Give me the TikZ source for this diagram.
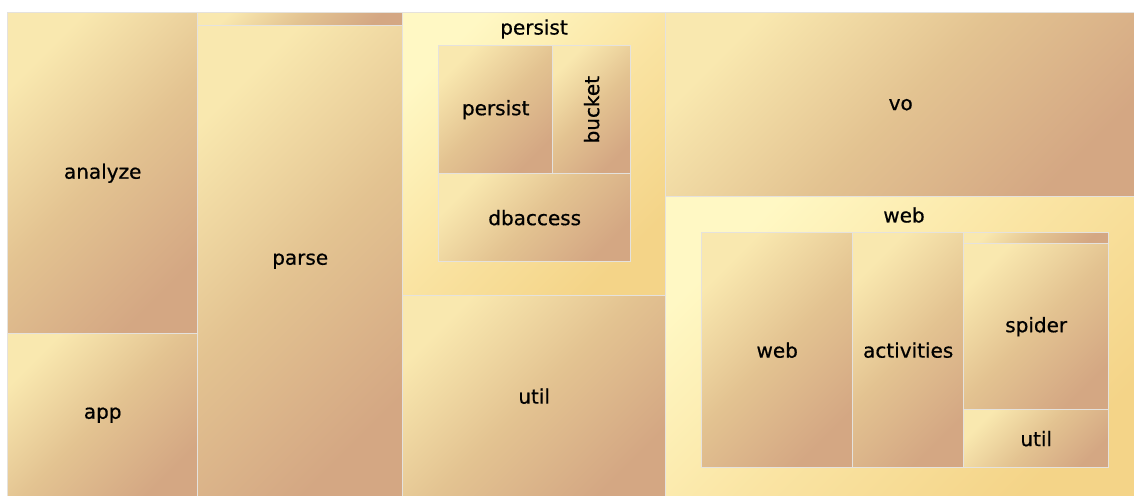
\documentclass[tikz,border=0pt]{standalone}
\usepackage{fontspec}
\setmainfont{DejaVu Sans}[BoldFont=DejaVu Sans, BoldFeatures={FakeBold=0.6}]
\definecolor{leafA}{HTML}{F9E8AF}
\definecolor{leafB}{HTML}{E3C391}
\definecolor{leafC}{HTML}{D4A783}
\definecolor{grpA}{HTML}{FFF8C4}
\definecolor{grpB}{HTML}{FAE4A3}
\definecolor{grpC}{HTML}{F4D488}
\definecolor{rule}{HTML}{E5E2DD}
\pgfdeclarehorizontalshading{leafshade}{100bp}{color(0bp)=(leafA); color(25bp)=(leafA); color(50bp)=(leafB); color(75bp)=(leafC); color(100bp)=(leafC)}
\pgfdeclarehorizontalshading{grpshade}{100bp}{color(0bp)=(grpA); color(25bp)=(grpA); color(50bp)=(grpB); color(75bp)=(grpC); color(100bp)=(grpC)}
\tikzset{
  tile/.style={draw=rule, line width=1.4pt, inner sep=0pt, anchor=north west,
    font=\fontsize{20}{23}\selectfont\bfseries, text=black},
  leaf/.style={tile, shading=leafshade, shading angle=-45},
  grp/.style={tile, shading=grpshade, shading angle=-45},
  lbl/.style={inner sep=0pt, font=\fontsize{20}{23}\selectfont\bfseries, text=black},
}
% place a tile: style, name, x, y, width, height, text
\newcommand\tm[7]{\node[#1, minimum width=#5pt, minimum height=#6pt] (#2) at (#3,#4) {#7};}
\begin{document}
\begin{tikzpicture}[x=1pt, y=-1pt]
  \fill[white] (0,0) rectangle (1134,495);
  \useasboundingbox (0,0) rectangle (1134,495);
  \begin{scope}
    \clip (0,0) rectangle (1134,495);
    % left column
    \tm{leaf}{analyze}{7}{12}{190}{321}{analyze}
    \tm{leaf}{app}{7}{333}{190}{163}{app}
    % parse column
    \tm{leaf}{topstrip}{197}{12}{205}{13}{}
    \tm{leaf}{parse}{197}{25}{205}{471}{parse}
    % persist package
    \tm{grp}{persistpkg}{402}{12}{263}{283}{}
    \node[lbl] (persistlbl) at (534,29) {persist};
    \tm{leaf}{persist}{438}{45}{114}{128}{persist}
    \tm{leaf}{bucket}{552}{45}{78}{128}{}
    \node[lbl, rotate=90] (bucketlbl) at (bucket.center) {bucket};
    \tm{leaf}{dbaccess}{438}{173}{192}{88}{dbaccess}
    \tm{leaf}{util}{402}{295}{263}{201}{util}
    % right column
    \tm{leaf}{vo}{665}{12}{470}{184}{vo}
    \tm{grp}{webpkg}{665}{196}{470}{300}{}
    \node[lbl] (weblbl) at (904,215) {web};
    \tm{leaf}{web}{701}{232}{151}{235}{web}
    \tm{leaf}{activities}{852}{232}{111}{235}{activities}
    \tm{leaf}{webstrip}{963}{232}{145}{11}{}
    \tm{leaf}{spider}{963}{243}{145}{166}{spider}
    \tm{leaf}{webutil}{963}{409}{145}{58}{util}
  \end{scope}
\end{tikzpicture}
\end{document}
